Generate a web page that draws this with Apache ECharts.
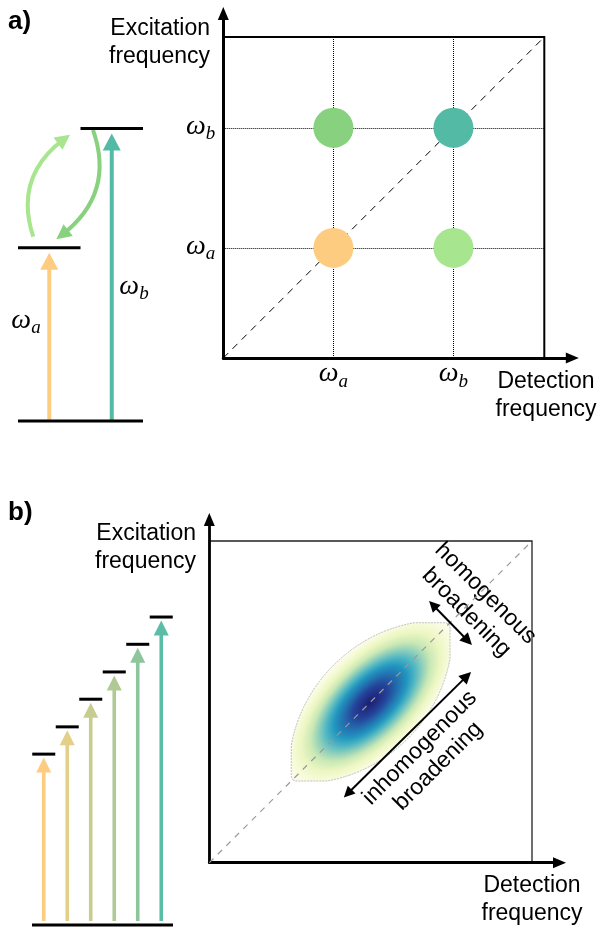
<!DOCTYPE html>
<html>
<head>
<meta charset="utf-8">
<script src="https://cdn.jsdelivr.net/npm/echarts@6/dist/echarts.min.js"></script>
<style>
  html, body { margin: 0; padding: 0; background: #fff; }
  #chart { width: 602px; height: 929px; }
</style>
</head>
<body>
<div id="chart"></div>
<script>
// ---------- panel a: two coupled transitions ----------
const freqA = 3.43;                 // ω_a on the 2D frequency axes
const freqB = 7.17;                 // ω_b
const freqTicks = [freqA, freqB];
const freqTickNames = ['a', 'b'];
const peakDetect = [freqA, freqA, freqB, freqB];
const peakExcite = [freqA, freqB, freqB, freqA];
const peakColors = ['#FECC80', '#88D17E', '#53BBA5', '#A7E58E'];

// energy-level scheme a (levels: ground, a, b)
const levelEnergyA = [0, 4.51, 7.62];
const levelFromA = [0, 0, 5];
const levelToA = [10, 5, 10];
const pumpXA = [2.5, 7.5];
const pumpTopA = [4.51, 7.62];
const pumpColorsA = ['#FECC80', '#53BBA5'];
const pumpLabelsA = ['a', 'b'];

// population transfer between the two excited levels
const transferFrom = [[1.22, 4.80], [6.0, 7.58]];
const transferTo = [[3.68, 7.34], [3.54, 4.85]];
const transferCurve = [0.36, 0.36];
const transferColors = ['#A7E58E', '#88D17E'];

// ---------- panel b: inhomogeneous ensemble ----------
const levelEnergyB = [4.45, 5.16, 5.88, 6.59, 7.31, 8.02];
const pumpXB = [0.5, 1.5, 2.5, 3.5, 4.5, 5.5];
const pumpColorsB = ['#FECC80', '#E3CF88', '#C9CC8F', '#B0C995', '#8DC59C', '#5BBDA6'];

const spectrumCenter = [5, 5];
const inhomWidth = 3.42;      // half-length along the diagonal
const homWidth = 1.62;        // half-width across the diagonal
const spectrumHalfWindow = 2.46;
const lensExponent = 0.75;    // >0.5 gives pointed ends along the diagonal

const homArrow = [[6.93, 8.01], [8.01, 6.90]];
const inhomArrow = [[4.29, 2.15], [7.98, 5.80]];

// ---------- styling ----------
const SANS = '"Liberation Sans", Arial, Helvetica, sans-serif';
const SERIF = '"Liberation Serif", "Times New Roman", serif';

const omegaRich = {
  w: { fontFamily: SERIF, fontStyle: 'italic', fontSize: 28, color: '#000', verticalAlign: 'top', lineHeight: 24 },
  s: { fontFamily: SERIF, fontStyle: 'italic', fontSize: 19, color: '#000', verticalAlign: 'top', padding: [12, 0, 0, 0] }
};
const omegaText = sub => '{w|ω}{s|' + sub + '}';

function hiddenAxis(grid, min, max) {
  return { gridIndex: grid, type: 'value', min: min, max: max, show: false };
}

function arrowAxis(grid, max, width) {
  return {
    gridIndex: grid, type: 'value', min: 0, max: max,
    axisLine: { show: true, symbol: ['none', 'triangle'], symbolSize: [11, 13],
                lineStyle: { color: '#000', width: width } },
    axisTick: { show: false }, axisLabel: { show: false }, splitLine: { show: false }
  };
}

function frameAxis(grid, withTicks, isY) {
  const ax = {
    gridIndex: grid, type: 'value', min: 0, max: 10,
    axisLine: { show: false },
    axisTick: { show: false },
    axisLabel: { show: false },
    splitLine: { show: false }
  };
  if (withTicks) {
    ax.axisTick = { show: false, customValues: freqTicks };
    ax.axisLabel = {
      show: true, customValues: freqTicks, margin: isY ? 8 : 2,
      formatter: v => omegaText(freqTickNames[freqTicks.indexOf(v)]),
      rich: omegaRich
    };
    ax.splitLine = { show: true, lineStyle: { type: 'dotted', color: '#000', width: 1 } };
  }
  return ax;
}

function levelRenderer(width) {
  return function (params, api) {
    const p0 = api.coord([api.value(0), api.value(2)]);
    const p1 = api.coord([api.value(1), api.value(2)]);
    return { type: 'line', shape: { x1: p0[0], y1: p0[1], x2: p1[0], y2: p1[1] },
             style: { stroke: '#000', lineWidth: width } };
  };
}

function pumpRenderer(colors, d) {
  return function (params, api) {
    const base = api.coord([api.value(0), api.value(1)]);
    const top = api.coord([api.value(0), api.value(2)]);
    const tipY = top[1] + d.gap;
    const headBase = tipY + d.headH;
    const c = colors[params.dataIndex];
    return {
      type: 'group',
      children: [
        { type: 'rect', shape: { x: base[0] - d.shaft / 2, y: headBase - 1, width: d.shaft,
                                  height: base[1] - d.bottom - headBase + 1 }, style: { fill: c } },
        { type: 'polygon', shape: { points: [[base[0], tipY], [base[0] - d.headW / 2, headBase],
                                             [base[0] + d.headW / 2, headBase]] }, style: { fill: c } }
      ]
    };
  };
}

// Lens-shaped 2D line shape elongated along the diagonal, cut to a square window.
// Filled with an elliptical YlGnBu-like gradient.
function spectrumRenderer(params, api) {
  const cx = api.value(0), cy = api.value(1);
  const A = api.value(2), B = api.value(3), W = api.value(4), ex = api.value(5);
  const c = api.coord([cx, cy]);
  const unit = api.size([1, 1]);
  const s = (unit[0] + unit[1]) / 2;
  const clamp = v => Math.max(-W, Math.min(W, v));
  const N = 180;
  const ring = [];
  for (let i = 0; i <= N; i++) {
    const pu = -1 + 2 * i / N;
    ring.push([pu, Math.pow(Math.max(0, 1 - pu * pu), ex)]);
  }
  for (let i = N - 1; i > 0; i--) {
    const pu = -1 + 2 * i / N;
    ring.push([pu, -Math.pow(Math.max(0, 1 - pu * pu), ex)]);
  }
  const local = [], outline = [];
  ring.forEach(([p, q]) => {
    const dx = clamp((A * p + B * q) / Math.SQRT2);
    const dy = clamp((A * p - B * q) / Math.SQRT2);
    local.push([(dx + dy) / (Math.SQRT2 * A), (dx - dy) / (Math.SQRT2 * B)]);
    outline.push(api.coord([cx + dx, cy + dy]));
  });
  return {
    type: 'group',
    children: [
      {
        type: 'polygon', x: c[0], y: c[1], rotation: Math.PI / 4, scaleX: A * s, scaleY: B * s,
        shape: { points: local },
        style: {
          fill: {
            type: 'radial', x: 0, y: 0, r: 1, global: true,
            colorStops: [
              { offset: 0, color: '#1a2070' },
              { offset: 0.09, color: '#212d84' },
              { offset: 0.2, color: '#24449a' },
              { offset: 0.31, color: '#236eae' },
              { offset: 0.42, color: '#2296bf' },
              { offset: 0.51, color: '#4db5c3' },
              { offset: 0.6, color: '#8fcfbb' },
              { offset: 0.69, color: '#c9e8b5' },
              { offset: 0.8, color: '#ebf6c1' },
              { offset: 0.91, color: '#f7fbda' },
              { offset: 1, color: '#fcfdf0' }
            ]
          }
        }
      },
      { type: 'polygon', shape: { points: outline },
        style: { fill: 'none', stroke: '#bdbdbd', lineWidth: 1, lineDash: [2, 1] } }
    ]
  };
}

const option = {
  backgroundColor: '#fff',
  animation: false,
  grid: [
    // a: spectrum frame
    { left: 223.3, top: 37, width: 321, height: 321, show: true, borderColor: '#000', borderWidth: 2, backgroundColor: 'transparent' },
    // a: axes with arrows
    { left: 223.3, top: 13.5, width: 349, height: 344.5 },
    // a: level scheme
    { left: 18, top: 37, width: 125, height: 384 },
    // b: spectrum frame
    { left: 209.3, top: 541, width: 322.7, height: 321.7, show: true, borderColor: '#222', borderWidth: 1.3, backgroundColor: 'transparent' },
    // b: axes with arrows
    { left: 209.3, top: 519.5, width: 350.2, height: 343.2 },
    // b: level scheme
    { left: 32, top: 541, width: 141, height: 384 }
  ],
  xAxis: [
    frameAxis(0, true, false),
    arrowAxis(1, 10.87, 3),
    hiddenAxis(2, 0, 10),
    frameAxis(3, false, false),
    arrowAxis(4, 10.85, 2.8),
    hiddenAxis(5, 0, 6)
  ],
  yAxis: [
    frameAxis(0, true, true),
    arrowAxis(1, 10.73, 3),
    hiddenAxis(2, 0, 10),
    frameAxis(3, false, true),
    arrowAxis(4, 10.67, 2.8),
    hiddenAxis(5, 0, 10)
  ],
  series: [
    // ---- panel a ----
    {
      type: 'line', xAxisIndex: 0, yAxisIndex: 0, symbol: 'none', z: 2,
      data: [[0, 0], [10, 10]],
      lineStyle: { color: '#000', width: 1, type: [7, 6] }
    },
    {
      type: 'scatter', xAxisIndex: 0, yAxisIndex: 0, symbolSize: 40, z: 3,
      data: peakDetect.map((x, i) => [x, peakExcite[i]]),
      itemStyle: { color: p => peakColors[p.dataIndex], opacity: 1 }
    },
    {
      type: 'custom', xAxisIndex: 2, yAxisIndex: 2, z: 3,
      data: levelEnergyA.map((e, i) => [levelFromA[i], levelToA[i], e]),
      renderItem: levelRenderer(3)
    },
    {
      type: 'custom', xAxisIndex: 2, yAxisIndex: 2, z: 2,
      data: pumpXA.map((x, i) => [x, 0, pumpTopA[i]]),
      renderItem: pumpRenderer(pumpColorsA, { shaft: 4, headW: 18, headH: 17, gap: 5, bottom: 0 })
    },
    {
      type: 'lines', coordinateSystem: 'cartesian2d', xAxisIndex: 2, yAxisIndex: 2, z: 2,
      symbol: ['none', 'triangle'], symbolSize: [14, 15],
      lineStyle: { width: 4, opacity: 1 },
      data: transferFrom.map((f, i) => ({
        coords: [f, transferTo[i]],
        lineStyle: { color: transferColors[i], curveness: transferCurve[i] }
      }))
    },
    // ---- panel b ----
    {
      type: 'custom', xAxisIndex: 3, yAxisIndex: 3, z: 1,
      data: [[spectrumCenter[0], spectrumCenter[1], inhomWidth, homWidth, spectrumHalfWindow, lensExponent]],
      renderItem: spectrumRenderer
    },
    {
      type: 'line', xAxisIndex: 3, yAxisIndex: 3, symbol: 'none', z: 2,
      data: [[0, 0], [10, 10]],
      lineStyle: { color: '#9a9a9a', width: 1.2, type: [6, 6] }
    },
    {
      type: 'lines', coordinateSystem: 'cartesian2d', xAxisIndex: 3, yAxisIndex: 3, z: 3,
      symbol: ['triangle', 'triangle'], symbolSize: [11, 12],
      lineStyle: { color: '#000', width: 2, opacity: 1 },
      data: [{ coords: homArrow }, { coords: inhomArrow }]
    },
    {
      type: 'custom', xAxisIndex: 5, yAxisIndex: 5, z: 3,
      data: levelEnergyB.map((e, i) => [pumpXB[i] - 0.49, pumpXB[i] + 0.49, e])
        .concat([[0, 6, 0]]),
      renderItem: levelRenderer(3)
    },
    {
      type: 'custom', xAxisIndex: 5, yAxisIndex: 5, z: 2,
      data: pumpXB.map((x, i) => [x, 0, levelEnergyB[i]]),
      renderItem: pumpRenderer(pumpColorsB, { shaft: 3.6, headW: 15, headH: 15, gap: 3.5, bottom: 4 })
    }
  ],
  graphic: [
    { type: 'text', x: 8, y: 22, style: { text: 'a)', font: 'bold 26px ' + SANS, fill: '#000', verticalAlign: 'middle' } },
    { type: 'text', x: 8, y: 513, style: { text: 'b)', font: 'bold 26px ' + SANS, fill: '#000', verticalAlign: 'middle' } },
    { type: 'text', x: 210, y: 43, style: { text: 'Excitation\nfrequency', font: '23px ' + SANS, fill: '#000',
      align: 'right', verticalAlign: 'middle', lineHeight: 28 } },
    { type: 'text', x: 546, y: 396, style: { text: 'Detection\nfrequency', font: '23px ' + SANS, fill: '#000',
      align: 'center', verticalAlign: 'middle', lineHeight: 28 } },
    { type: 'text', x: 196, y: 548, style: { text: 'Excitation\nfrequency', font: '23px ' + SANS, fill: '#000',
      align: 'right', verticalAlign: 'middle', lineHeight: 28 } },
    { type: 'text', x: 532, y: 900, style: { text: 'Detection\nfrequency', font: '23px ' + SANS, fill: '#000',
      align: 'center', verticalAlign: 'middle', lineHeight: 28 } },
    { type: 'text', x: 476, y: 603, rotation: -Math.PI / 4, style: { text: 'homogenous\nbroadening',
      font: '23px ' + SANS, fill: '#000', align: 'center', verticalAlign: 'middle', lineHeight: 27 } },
    { type: 'text', x: 429, y: 757, rotation: Math.PI / 4, style: { text: 'inhomogenous\nbroadening',
      font: '23px ' + SANS, fill: '#000', align: 'center', verticalAlign: 'middle', lineHeight: 26 } },
    { type: 'text', x: 26, y: 322, style: { text: omegaText(pumpLabelsA[0]), rich: omegaRich, align: 'center', verticalAlign: 'middle' } },
    { type: 'text', x: 134, y: 288, style: { text: omegaText(pumpLabelsA[1]), rich: omegaRich, align: 'center', verticalAlign: 'middle' } }
  ]
};

const chart = echarts.init(document.getElementById('chart'), null, { renderer: 'canvas' });
chart.setOption(option);
</script>
</body>
</html>
